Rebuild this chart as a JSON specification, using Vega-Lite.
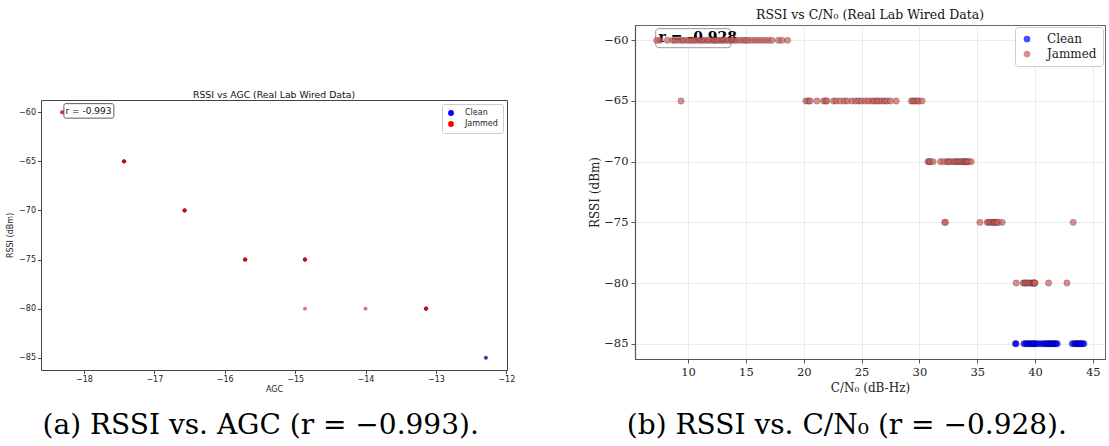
{
  "$schema": "https://vega.github.io/schema/vega-lite/v6.json",
  "padding": {"left": 6, "top": 8, "right": 4, "bottom": 0},
  "background": "#ffffff",
  "resolve": {"scale": {"color": "independent"}, "legend": {"color": "independent"}},
  "datasets": {
    "agc": [
      {"Type": "Jammed", "AGC": -18.31, "RSSI": -60},
      {"Type": "Jammed", "AGC": -18.31, "RSSI": -60},
      {"Type": "Jammed", "AGC": -17.43, "RSSI": -65},
      {"Type": "Jammed", "AGC": -17.43, "RSSI": -65},
      {"Type": "Jammed", "AGC": -17.43, "RSSI": -65},
      {"Type": "Jammed", "AGC": -17.43, "RSSI": -65},
      {"Type": "Jammed", "AGC": -17.43, "RSSI": -65},
      {"Type": "Jammed", "AGC": -16.57, "RSSI": -70},
      {"Type": "Jammed", "AGC": -16.57, "RSSI": -70},
      {"Type": "Jammed", "AGC": -16.57, "RSSI": -70},
      {"Type": "Jammed", "AGC": -16.57, "RSSI": -70},
      {"Type": "Jammed", "AGC": -16.57, "RSSI": -70},
      {"Type": "Jammed", "AGC": -15.71, "RSSI": -75},
      {"Type": "Jammed", "AGC": -15.71, "RSSI": -75},
      {"Type": "Jammed", "AGC": -15.71, "RSSI": -75},
      {"Type": "Jammed", "AGC": -15.71, "RSSI": -75},
      {"Type": "Jammed", "AGC": -15.71, "RSSI": -75},
      {"Type": "Jammed", "AGC": -14.86, "RSSI": -75},
      {"Type": "Jammed", "AGC": -14.86, "RSSI": -75},
      {"Type": "Jammed", "AGC": -14.86, "RSSI": -75},
      {"Type": "Jammed", "AGC": -14.86, "RSSI": -75},
      {"Type": "Jammed", "AGC": -14.86, "RSSI": -75},
      {"Type": "Jammed", "AGC": -14.86, "RSSI": -80},
      {"Type": "Jammed", "AGC": -14.0, "RSSI": -80},
      {"Type": "Jammed", "AGC": -13.14, "RSSI": -80},
      {"Type": "Jammed", "AGC": -13.14, "RSSI": -80},
      {"Type": "Jammed", "AGC": -13.14, "RSSI": -80},
      {"Type": "Jammed", "AGC": -13.14, "RSSI": -80},
      {"Type": "Jammed", "AGC": -13.14, "RSSI": -80},
      {"Type": "Clean", "AGC": -12.29, "RSSI": -85},
      {"Type": "Clean", "AGC": -12.29, "RSSI": -85}
    ],
    "cn0": [
      {"Type": "Jammed", "CN0": 7.29, "RSSI": -60},
      {"Type": "Jammed", "CN0": 7.58, "RSSI": -60},
      {"Type": "Jammed", "CN0": 8.21, "RSSI": -60},
      {"Type": "Jammed", "CN0": 8.67, "RSSI": -60},
      {"Type": "Jammed", "CN0": 8.87, "RSSI": -60},
      {"Type": "Jammed", "CN0": 9.16, "RSSI": -60},
      {"Type": "Jammed", "CN0": 9.45, "RSSI": -60},
      {"Type": "Jammed", "CN0": 9.6, "RSSI": -60},
      {"Type": "Jammed", "CN0": 9.89, "RSSI": -60},
      {"Type": "Jammed", "CN0": 10.1, "RSSI": -60},
      {"Type": "Jammed", "CN0": 10.32, "RSSI": -60},
      {"Type": "Jammed", "CN0": 10.55, "RSSI": -60},
      {"Type": "Jammed", "CN0": 10.75, "RSSI": -60},
      {"Type": "Jammed", "CN0": 11.04, "RSSI": -60},
      {"Type": "Jammed", "CN0": 11.2, "RSSI": -60},
      {"Type": "Jammed", "CN0": 11.47, "RSSI": -60},
      {"Type": "Jammed", "CN0": 11.7, "RSSI": -60},
      {"Type": "Jammed", "CN0": 11.9, "RSSI": -60},
      {"Type": "Jammed", "CN0": 12.19, "RSSI": -60},
      {"Type": "Jammed", "CN0": 12.3, "RSSI": -60},
      {"Type": "Jammed", "CN0": 12.48, "RSSI": -60},
      {"Type": "Jammed", "CN0": 12.7, "RSSI": -60},
      {"Type": "Jammed", "CN0": 12.91, "RSSI": -60},
      {"Type": "Jammed", "CN0": 13.1, "RSSI": -60},
      {"Type": "Jammed", "CN0": 13.35, "RSSI": -60},
      {"Type": "Jammed", "CN0": 13.55, "RSSI": -60},
      {"Type": "Jammed", "CN0": 13.78, "RSSI": -60},
      {"Type": "Jammed", "CN0": 14.0, "RSSI": -60},
      {"Type": "Jammed", "CN0": 14.22, "RSSI": -60},
      {"Type": "Jammed", "CN0": 14.5, "RSSI": -60},
      {"Type": "Jammed", "CN0": 14.79, "RSSI": -60},
      {"Type": "Jammed", "CN0": 15.0, "RSSI": -60},
      {"Type": "Jammed", "CN0": 15.22, "RSSI": -60},
      {"Type": "Jammed", "CN0": 15.51, "RSSI": -60},
      {"Type": "Jammed", "CN0": 15.8, "RSSI": -60},
      {"Type": "Jammed", "CN0": 16.09, "RSSI": -60},
      {"Type": "Jammed", "CN0": 16.38, "RSSI": -60},
      {"Type": "Jammed", "CN0": 16.67, "RSSI": -60},
      {"Type": "Jammed", "CN0": 16.96, "RSSI": -60},
      {"Type": "Jammed", "CN0": 17.25, "RSSI": -60},
      {"Type": "Jammed", "CN0": 17.82, "RSSI": -60},
      {"Type": "Jammed", "CN0": 18.11, "RSSI": -60},
      {"Type": "Jammed", "CN0": 18.6, "RSSI": -60},
      {"Type": "Jammed", "CN0": 9.39, "RSSI": -65},
      {"Type": "Jammed", "CN0": 20.19, "RSSI": -65},
      {"Type": "Jammed", "CN0": 20.4, "RSSI": -65},
      {"Type": "Jammed", "CN0": 20.56, "RSSI": -65},
      {"Type": "Jammed", "CN0": 21.14, "RSSI": -65},
      {"Type": "Jammed", "CN0": 21.72, "RSSI": -65},
      {"Type": "Jammed", "CN0": 21.9, "RSSI": -65},
      {"Type": "Jammed", "CN0": 22.0, "RSSI": -65},
      {"Type": "Jammed", "CN0": 22.58, "RSSI": -65},
      {"Type": "Jammed", "CN0": 22.8, "RSSI": -65},
      {"Type": "Jammed", "CN0": 23.16, "RSSI": -65},
      {"Type": "Jammed", "CN0": 23.5, "RSSI": -65},
      {"Type": "Jammed", "CN0": 23.74, "RSSI": -65},
      {"Type": "Jammed", "CN0": 24.17, "RSSI": -65},
      {"Type": "Jammed", "CN0": 24.5, "RSSI": -65},
      {"Type": "Jammed", "CN0": 24.75, "RSSI": -65},
      {"Type": "Jammed", "CN0": 25.0, "RSSI": -65},
      {"Type": "Jammed", "CN0": 25.32, "RSSI": -65},
      {"Type": "Jammed", "CN0": 25.6, "RSSI": -65},
      {"Type": "Jammed", "CN0": 25.9, "RSSI": -65},
      {"Type": "Jammed", "CN0": 26.1, "RSSI": -65},
      {"Type": "Jammed", "CN0": 26.33, "RSSI": -65},
      {"Type": "Jammed", "CN0": 26.5, "RSSI": -65},
      {"Type": "Jammed", "CN0": 26.77, "RSSI": -65},
      {"Type": "Jammed", "CN0": 27.0, "RSSI": -65},
      {"Type": "Jammed", "CN0": 27.2, "RSSI": -65},
      {"Type": "Jammed", "CN0": 27.49, "RSSI": -65},
      {"Type": "Jammed", "CN0": 28.0, "RSSI": -65},
      {"Type": "Jammed", "CN0": 29.31, "RSSI": -65},
      {"Type": "Jammed", "CN0": 29.45, "RSSI": -65},
      {"Type": "Jammed", "CN0": 29.6, "RSSI": -65},
      {"Type": "Jammed", "CN0": 29.8, "RSSI": -65},
      {"Type": "Jammed", "CN0": 29.94, "RSSI": -65},
      {"Type": "Jammed", "CN0": 30.23, "RSSI": -65},
      {"Type": "Jammed", "CN0": 30.75, "RSSI": -70},
      {"Type": "Jammed", "CN0": 30.85, "RSSI": -70},
      {"Type": "Jammed", "CN0": 30.95, "RSSI": -70},
      {"Type": "Jammed", "CN0": 31.18, "RSSI": -70},
      {"Type": "Jammed", "CN0": 31.82, "RSSI": -70},
      {"Type": "Jammed", "CN0": 32.11, "RSSI": -70},
      {"Type": "Jammed", "CN0": 32.4, "RSSI": -70},
      {"Type": "Jammed", "CN0": 32.55, "RSSI": -70},
      {"Type": "Jammed", "CN0": 32.68, "RSSI": -70},
      {"Type": "Jammed", "CN0": 32.97, "RSSI": -70},
      {"Type": "Jammed", "CN0": 33.1, "RSSI": -70},
      {"Type": "Jammed", "CN0": 33.26, "RSSI": -70},
      {"Type": "Jammed", "CN0": 33.4, "RSSI": -70},
      {"Type": "Jammed", "CN0": 33.55, "RSSI": -70},
      {"Type": "Jammed", "CN0": 33.7, "RSSI": -70},
      {"Type": "Jammed", "CN0": 33.84, "RSSI": -70},
      {"Type": "Jammed", "CN0": 33.95, "RSSI": -70},
      {"Type": "Jammed", "CN0": 34.05, "RSSI": -70},
      {"Type": "Jammed", "CN0": 34.13, "RSSI": -70},
      {"Type": "Jammed", "CN0": 34.25, "RSSI": -70},
      {"Type": "Jammed", "CN0": 34.47, "RSSI": -70},
      {"Type": "Jammed", "CN0": 32.2, "RSSI": -75},
      {"Type": "Jammed", "CN0": 32.25, "RSSI": -75},
      {"Type": "Jammed", "CN0": 35.23, "RSSI": -75},
      {"Type": "Jammed", "CN0": 35.86, "RSSI": -75},
      {"Type": "Jammed", "CN0": 36.0, "RSSI": -75},
      {"Type": "Jammed", "CN0": 36.15, "RSSI": -75},
      {"Type": "Jammed", "CN0": 36.3, "RSSI": -75},
      {"Type": "Jammed", "CN0": 36.44, "RSSI": -75},
      {"Type": "Jammed", "CN0": 36.5, "RSSI": -75},
      {"Type": "Jammed", "CN0": 36.6, "RSSI": -75},
      {"Type": "Jammed", "CN0": 36.73, "RSSI": -75},
      {"Type": "Jammed", "CN0": 36.85, "RSSI": -75},
      {"Type": "Jammed", "CN0": 37.16, "RSSI": -75},
      {"Type": "Jammed", "CN0": 43.3, "RSSI": -75},
      {"Type": "Jammed", "CN0": 38.37, "RSSI": -80},
      {"Type": "Jammed", "CN0": 38.98, "RSSI": -80},
      {"Type": "Jammed", "CN0": 39.1, "RSSI": -80},
      {"Type": "Jammed", "CN0": 39.18, "RSSI": -80},
      {"Type": "Jammed", "CN0": 39.3, "RSSI": -80},
      {"Type": "Jammed", "CN0": 39.47, "RSSI": -80},
      {"Type": "Jammed", "CN0": 39.6, "RSSI": -80},
      {"Type": "Jammed", "CN0": 39.76, "RSSI": -80},
      {"Type": "Jammed", "CN0": 39.85, "RSSI": -80},
      {"Type": "Jammed", "CN0": 39.9, "RSSI": -80},
      {"Type": "Jammed", "CN0": 39.96, "RSSI": -80},
      {"Type": "Jammed", "CN0": 40.0, "RSSI": -80},
      {"Type": "Jammed", "CN0": 41.17, "RSSI": -80},
      {"Type": "Jammed", "CN0": 42.76, "RSSI": -80},
      {"Type": "Clean", "CN0": 38.31, "RSSI": -85},
      {"Type": "Clean", "CN0": 38.35, "RSSI": -85},
      {"Type": "Clean", "CN0": 39.03, "RSSI": -85},
      {"Type": "Clean", "CN0": 39.2, "RSSI": -85},
      {"Type": "Clean", "CN0": 39.3, "RSSI": -85},
      {"Type": "Clean", "CN0": 39.45, "RSSI": -85},
      {"Type": "Clean", "CN0": 39.55, "RSSI": -85},
      {"Type": "Clean", "CN0": 39.7, "RSSI": -85},
      {"Type": "Clean", "CN0": 39.8, "RSSI": -85},
      {"Type": "Clean", "CN0": 39.9, "RSSI": -85},
      {"Type": "Clean", "CN0": 40.0, "RSSI": -85},
      {"Type": "Clean", "CN0": 40.1, "RSSI": -85},
      {"Type": "Clean", "CN0": 40.3, "RSSI": -85},
      {"Type": "Clean", "CN0": 40.5, "RSSI": -85},
      {"Type": "Clean", "CN0": 40.7, "RSSI": -85},
      {"Type": "Clean", "CN0": 40.85, "RSSI": -85},
      {"Type": "Clean", "CN0": 41.0, "RSSI": -85},
      {"Type": "Clean", "CN0": 41.1, "RSSI": -85},
      {"Type": "Clean", "CN0": 41.2, "RSSI": -85},
      {"Type": "Clean", "CN0": 41.3, "RSSI": -85},
      {"Type": "Clean", "CN0": 41.4, "RSSI": -85},
      {"Type": "Clean", "CN0": 41.5, "RSSI": -85},
      {"Type": "Clean", "CN0": 41.6, "RSSI": -85},
      {"Type": "Clean", "CN0": 41.7, "RSSI": -85},
      {"Type": "Clean", "CN0": 41.8, "RSSI": -85},
      {"Type": "Clean", "CN0": 41.92, "RSSI": -85},
      {"Type": "Clean", "CN0": 43.22, "RSSI": -85},
      {"Type": "Clean", "CN0": 43.4, "RSSI": -85},
      {"Type": "Clean", "CN0": 43.5, "RSSI": -85},
      {"Type": "Clean", "CN0": 43.6, "RSSI": -85},
      {"Type": "Clean", "CN0": 43.7, "RSSI": -85},
      {"Type": "Clean", "CN0": 43.8, "RSSI": -85},
      {"Type": "Clean", "CN0": 43.9, "RSSI": -85},
      {"Type": "Clean", "CN0": 44.0, "RSSI": -85},
      {"Type": "Clean", "CN0": 44.1, "RSSI": -85},
      {"Type": "Clean", "CN0": 44.23, "RSSI": -85}
    ]
  },
  "spacing": 72,
  "hconcat": [
    {
      "title": {"text": "(a) RSSI vs. AGC (r = −0.993).", "orient": "bottom", "anchor": "middle", "frame": "bounds", "font": "DejaVu Serif", "fontSize": 28, "fontWeight": "normal", "color": "#000000", "offset": 18},
      "spacing": 0,
      "resolve": {"scale": {"color": "independent"}, "legend": {"color": "independent"}},
      "vconcat": [
        {
          "width": 466, "height": 65,
          "data": {"values": [{}]},
          "mark": {"type": "text", "text": ""},
          "encoding": {},
          "view": {"stroke": null}
        },
        {
          "width": 466, "height": 270,
          "title": {"text": "RSSI vs AGC (Real Lab Wired Data)", "font": "DejaVu Sans", "fontSize": 9.3, "fontWeight": "normal", "anchor": "middle", "offset": 0, "color": "#111111"},
          "view": {"stroke": "#444444", "strokeWidth": 1},
          "layer": [
            {
              "data": {"name": "agc"},
              "mark": {"type": "circle", "size": 11, "opacity": 0.6, "stroke": "#6a0020", "strokeWidth": 0.9, "strokeOpacity": 0.5},
              "encoding": {
                "x": {"field": "AGC", "type": "quantitative", "scale": {"domain": [-18.61, -11.99], "nice": false, "zero": false},
                  "axis": {"values": [-18, -17, -16, -15, -14, -13, -12], "format": "d", "title": "AGC", "grid": false, "domain": false, "tickColor": "#444444", "tickSize": 3.5, "labelFont": "DejaVu Sans", "labelFontSize": 8, "labelColor": "#222222", "titleFont": "DejaVu Sans", "titleFontSize": 8, "titleFontWeight": "normal", "titleColor": "#222222", "titlePadding": 2, "labelPadding": 2, "labelFlush": false, "labelOverlap": false, "labelBound": false}},
                "y": {"field": "RSSI", "type": "quantitative", "scale": {"domain": [-86.25, -58.75], "nice": false, "zero": false},
                  "axis": {"values": [-85, -80, -75, -70, -65, -60], "format": "d", "title": "RSSI (dBm)", "grid": false, "domain": false, "tickColor": "#444444", "tickSize": 3.5, "labelFont": "DejaVu Sans", "labelFontSize": 8, "labelColor": "#222222", "titleFont": "DejaVu Sans", "titleFontSize": 8, "titleFontWeight": "normal", "titleColor": "#222222", "titlePadding": 4, "labelPadding": 2, "labelFlush": false, "labelOverlap": false}},
                "color": {"field": "Type", "type": "nominal", "scale": {"domain": ["Clean", "Jammed"], "range": ["#0000ff", "#ff0000"]},
                  "legend": {"orient": "top-right", "title": null, "fillColor": "#ffffff", "strokeColor": "#cccccc", "cornerRadius": 2, "padding": 5, "offset": 4, "labelFont": "DejaVu Sans", "labelFontSize": 8, "labelColor": "#222222", "symbolType": "circle", "symbolSize": 34, "symbolOpacity": 1, "symbolStrokeWidth": 0, "rowPadding": 3, "labelOffset": 10}}
              }
            },
            {
              "data": {"values": [{}]},
              "mark": {"type": "rect", "fill": "#ffffff", "stroke": "#333333", "strokeWidth": 0.8, "cornerRadius": 2},
              "encoding": {"x": {"datum": -18.285}, "x2": {"datum": -17.575}, "y": {"datum": -59.12}, "y2": {"datum": -60.6}}
            },
            {
              "data": {"values": [{}]},
              "mark": {"type": "text", "text": "r = -0.993", "align": "left", "baseline": "middle", "font": "DejaVu Sans", "fontSize": 9, "color": "#111111"},
              "encoding": {"x": {"datum": -18.262}, "y": {"datum": -59.86}}
            }
          ]
        }
      ]
    },
    {
      "title": {"text": "(b) RSSI vs. C/N₀ (r = −0.928).", "orient": "bottom", "anchor": "middle", "frame": "bounds", "font": "DejaVu Serif", "fontSize": 28, "fontWeight": "normal", "color": "#000000", "offset": 18},
      "resolve": {"scale": {"color": "independent"}, "legend": {"color": "independent"}},
      "vconcat": [
        {
          "width": 470, "height": 334,
          "title": {"text": "RSSI vs C/N₀ (Real Lab Wired Data)", "font": "DejaVu Serif", "fontSize": 12.5, "fontWeight": "normal", "anchor": "middle", "offset": 4, "color": "#111111"},
          "view": {"stroke": "#666666", "strokeWidth": 1},
          "layer": [
            {
              "data": {"values": [{}]},
              "mark": {"type": "rect", "fill": "#ffffff", "fillOpacity": 0.8, "stroke": "#999999", "strokeWidth": 1, "cornerRadius": 3},
              "encoding": {"x": {"datum": 7.2}, "x2": {"datum": 13.7}, "y": {"datum": -59.04}, "y2": {"datum": -60.61}}
            },
            {
              "data": {"values": [{}]},
              "mark": {"type": "text", "text": "r = -0.928", "align": "left", "baseline": "middle", "font": "DejaVu Serif", "fontSize": 14, "fontWeight": "bold", "color": "#000000"},
              "encoding": {"x": {"datum": 7.45}, "y": {"datum": -59.78}}
            },
            {
              "data": {"name": "cn0"},
              "mark": {"type": "circle", "size": 40, "opacity": 0.7, "stroke": "#000000", "strokeWidth": 0.6, "strokeOpacity": 0.5},
              "encoding": {
                "x": {"field": "CN0", "type": "quantitative", "scale": {"domain": [5.41, 46.05], "nice": false, "zero": false},
                  "axis": {"values": [10, 15, 20, 25, 30, 35, 40, 45], "format": "d", "title": "C/N₀ (dB-Hz)", "grid": true, "gridColor": "#e6e6e6", "gridWidth": 0.8, "domain": true, "domainColor": "#555555", "domainWidth": 1.2, "tickColor": "#555555", "tickSize": 4, "labelFont": "DejaVu Serif", "labelFontSize": 11.5, "labelColor": "#222222", "titleFont": "DejaVu Serif", "titleFontSize": 12, "titleFontWeight": "normal", "titleColor": "#222222", "titlePadding": 5, "labelPadding": 3, "labelFlush": false, "labelOverlap": false, "labelBound": false}},
                "y": {"field": "RSSI", "type": "quantitative", "scale": {"domain": [-86.26, -58.74], "nice": false, "zero": false},
                  "axis": {"values": [-85, -80, -75, -70, -65, -60], "format": "d", "title": "RSSI (dBm)", "grid": true, "gridColor": "#e6e6e6", "gridWidth": 0.8, "domain": true, "domainColor": "#555555", "domainWidth": 1.2, "tickColor": "#555555", "tickSize": 4, "labelFont": "DejaVu Serif", "labelFontSize": 11.5, "labelColor": "#222222", "titleFont": "DejaVu Serif", "titleFontSize": 12, "titleFontWeight": "normal", "titleColor": "#222222", "titlePadding": 2, "labelPadding": 3, "labelFlush": false, "labelOverlap": false}},
                "color": {"field": "Type", "type": "nominal", "scale": {"domain": ["Clean", "Jammed"], "range": ["#0000ff", "#cd5c5c"]},
                  "legend": {"orient": "top-right", "title": null, "fillColor": "#ffffff", "strokeColor": "#cccccc", "cornerRadius": 3, "padding": 6, "offset": 2, "labelFont": "DejaVu Serif", "labelFontSize": 12, "labelColor": "#222222", "symbolType": "circle", "symbolSize": 45, "symbolOpacity": 0.7, "symbolStrokeWidth": 0, "rowPadding": 3, "labelOffset": 14}}
              }
            }
          ]
        }
      ]
    }
  ]
}
